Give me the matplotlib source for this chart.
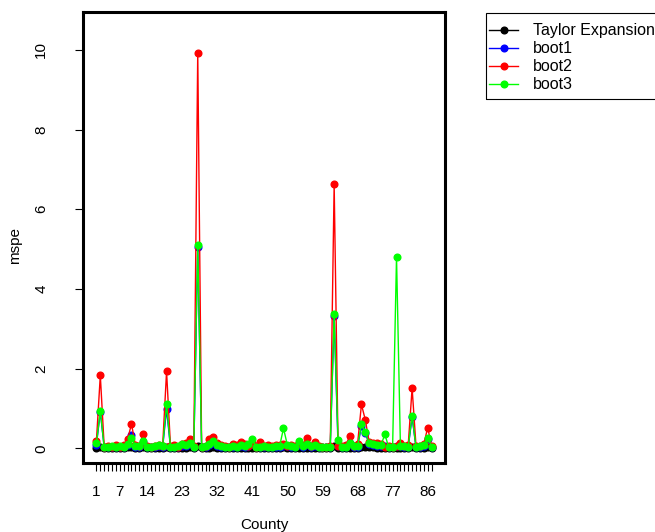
import numpy as np
import matplotlib
matplotlib.use('Agg')
import matplotlib.pyplot as plt
from matplotlib.patches import Rectangle

plt.rcParams['font.family'] = ['Liberation Sans', 'DejaVu Sans']

# mean squared prediction error per county
county = np.arange(1, 88)

taylor = [0.01, 0.02, 0.01, 0.01, 0.01, 0.01, 0.01, 0.01, 0.02, 0.03,
          0.01, 0.01, 0.02, 0.01, 0.01, 0.01, 0.01, 0.01, 0.03, 0.01,
          0.01, 0.01, 0.01, 0.01, 0.02, 0.01, 0.05, 0.01, 0.01, 0.01,
          0.02, 0.01, 0.01, 0.01, 0.01, 0.01, 0.01, 0.01, 0.01, 0.01,
          0.01, 0.01, 0.01, 0.01, 0.01, 0.01, 0.01, 0.01, 0.02, 0.01,
          0.01, 0.01, 0.01, 0.01, 0.01, 0.01, 0.01, 0.01, 0.01, 0.01,
          0.01, 0.05, 0.01, 0.01, 0.01, 0.01, 0.01, 0.01, 0.04, 0.03,
          0.02, 0.02, 0.01, 0.01, 0.01, 0.01, 0.01, 0.01, 0.01, 0.01,
          0.01, 0.03, 0.01, 0.01, 0.01, 0.02, 0.01]

boot1 = [0.08, 0.92, 0.02, 0.03, 0.03, 0.02, 0.03, 0.02, 0.08, 0.33,
         0.04, 0.03, 0.15, 0.03, 0.02, 0.03, 0.05, 0.03, 0.98, 0.03,
         0.02, 0.03, 0.06, 0.05, 0.10, 0.03, 5.05, 0.02, 0.03, 0.08,
         0.12, 0.05, 0.03, 0.02, 0.02, 0.04, 0.03, 0.06, 0.04, 0.05,
         0.12, 0.02, 0.04, 0.03, 0.02, 0.03, 0.04, 0.03, 0.06, 0.05,
         0.04, 0.03, 0.08, 0.04, 0.10, 0.03, 0.06, 0.02, 0.02, 0.02,
         0.03, 3.33, 0.05, 0.02, 0.03, 0.12, 0.04, 0.04, 0.55, 0.38,
         0.10, 0.08, 0.06, 0.05, 0.05, 0.02, 0.03, 0.05, 0.05, 0.04,
         0.03, 0.78, 0.02, 0.03, 0.06, 0.22, 0.03]

boot2 = [0.18, 1.83, 0.04, 0.06, 0.03, 0.07, 0.04, 0.08, 0.22, 0.61,
         0.08, 0.05, 0.37, 0.06, 0.03, 0.05, 0.08, 0.06, 1.93, 0.06,
         0.08, 0.04, 0.10, 0.12, 0.24, 0.05, 9.93, 0.03, 0.06, 0.22,
         0.28, 0.12, 0.08, 0.06, 0.04, 0.10, 0.08, 0.16, 0.10, 0.05,
         0.12, 0.04, 0.16, 0.06, 0.08, 0.05, 0.07, 0.09, 0.10, 0.06,
         0.08, 0.05, 0.12, 0.08, 0.25, 0.06, 0.15, 0.05, 0.04, 0.03,
         0.05, 6.63, 0.06, 0.05, 0.08, 0.31, 0.06, 0.10, 1.10, 0.71,
         0.15, 0.14, 0.12, 0.10, 0.04, 0.06, 0.03, 0.06, 0.12, 0.05,
         0.08, 1.51, 0.06, 0.05, 0.10, 0.52, 0.05]

boot3 = [0.12, 0.94, 0.03, 0.04, 0.05, 0.02, 0.05, 0.03, 0.10, 0.27,
         0.06, 0.05, 0.18, 0.04, 0.03, 0.05, 0.07, 0.05, 1.10, 0.04,
         0.03, 0.05, 0.10, 0.07, 0.12, 0.04, 5.10, 0.03, 0.05, 0.10,
         0.17, 0.08, 0.05, 0.03, 0.02, 0.06, 0.04, 0.08, 0.06, 0.10,
         0.22, 0.03, 0.04, 0.05, 0.03, 0.04, 0.06, 0.05, 0.50, 0.08,
         0.06, 0.04, 0.18, 0.06, 0.10, 0.05, 0.08, 0.03, 0.02, 0.03,
         0.04, 3.36, 0.20, 0.03, 0.04, 0.14, 0.06, 0.05, 0.60, 0.40,
         0.12, 0.10, 0.08, 0.07, 0.35, 0.03, 0.04, 4.80, 0.06, 0.05,
         0.04, 0.82, 0.03, 0.05, 0.08, 0.27, 0.04]

xtick_labels = [1, 7, 14, 23, 32, 41, 50, 59, 68, 77, 86]
yticks = [0, 2, 4, 6, 8, 10]

series = [('Taylor Expansion', taylor, 'black'),
          ('boot1', boot1, '#0000FF'),
          ('boot2', boot2, '#FF0000'),
          ('boot3', boot3, '#00FF00')]

fig = plt.figure(figsize=(6.55, 5.32), dpi=100)
ax = fig.add_axes([83/655, 1 - 463/532, 362/655, 451/532])

for name, vals, col in series:
    ax.plot(county, vals, '-o', color=col, lw=1, ms=4.8, label=name)

ax.set_xlim(-2.44, 90.44)
ax.set_ylim(-0.37, 10.95)

ax.set_xticks(county)
ax.set_xticklabels([str(c) if c in xtick_labels else '' for c in county])
ax.set_yticks(yticks)
ax.set_yticklabels([str(v) for v in yticks], rotation=90, va='center')
ax.tick_params(axis='x', length=6, width=0.8, pad=10, labelsize=11)
ax.tick_params(axis='y', length=6, width=0.8, pad=19, labelsize=11)

for s in ax.spines.values():
    s.set_linewidth(2.2)

fig.text(264/655, 3/532, 'County', ha='center', va='baseline', fontsize=11)
fig.text(15/655, 1 - 245/532, 'mspe', ha='center', va='center', rotation=90, fontsize=11)

# legend sits outside the plot, box runs off the right edge like the R device
leg = ax.legend(loc='upper left', bbox_to_anchor=(486/655, 1 - 20/532),
                bbox_transform=fig.transFigure, fontsize=11.5, frameon=False,
                handlelength=1.8, handletextpad=0.95, labelspacing=0.19,
                borderpad=0.2, borderaxespad=0)
fig.add_artist(Rectangle((486/655, 1 - 99/532), 200/655, 86/532,
                         transform=fig.transFigure, fill=False,
                         lw=0.8, ec='black', clip_on=False))

fig.savefig('out.png', dpi=100)
